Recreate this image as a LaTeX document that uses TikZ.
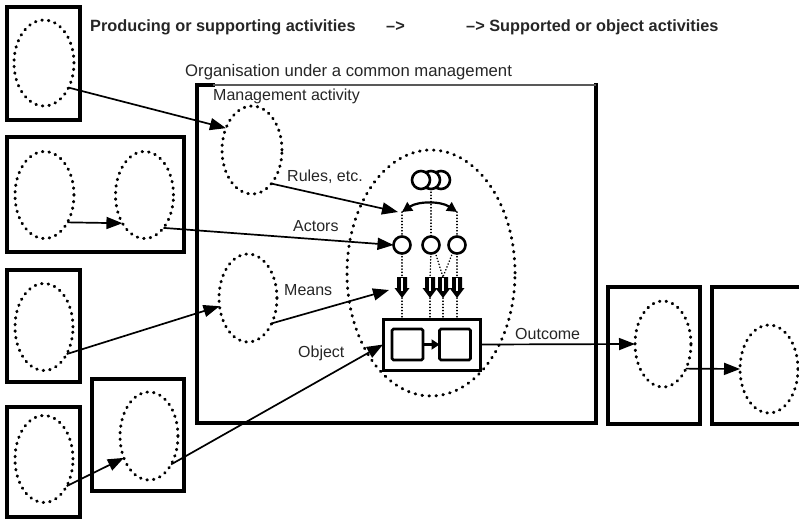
\documentclass[tikz,border=0pt]{standalone}
\usepackage{fontspec}
\setmainfont{Liberation Sans}
\usetikzlibrary{arrows.meta,shapes.geometric}
\begin{document}
\begin{tikzpicture}[x=1pt,y=-1pt,
  font=\fontsize{16}{19}\selectfont,
  every node/.style={text=black!85},
  actbox/.style={draw=black, line width=3.5pt, rectangle, inner sep=0pt, outer sep=0pt},
  dotell/.style={ellipse, draw=black, line width=3pt, dash pattern=on 0.6pt off 6pt, line cap=round, inner sep=0pt, outer sep=0pt, minimum width=58pt, minimum height=87pt},
  conn/.style={draw=black, line width=1.7pt, -{Triangle[length=16pt,width=12pt]}},
  lab/.style={anchor=base west, inner sep=0pt},
  ring/.style={circle, draw=black, line width=2.6pt, minimum size=17pt, inner sep=0pt, outer sep=0pt, fill=white},
  fine/.style={draw=black, line width=1.5pt, dash pattern=on 0.3pt off 2.8pt, line cap=round},
  sq/.style={rectangle, draw=black, line width=2.6pt, rounded corners=1.5pt, minimum width=31pt, minimum height=31pt, inner sep=0pt, outer sep=0pt}
]
\useasboundingbox (0,0) rectangle (799,520);
\fill[white] (0,0) rectangle (799,520);

% header texts
\node[lab, font=\fontsize{16.3}{19}\selectfont\bfseries] (h1) at (90,31) {Producing or supporting activities};
\node[lab, font=\fontsize{16.3}{19}\selectfont\bfseries] (h2) at (386,31) {–>};
\node[lab, font=\fontsize{16.3}{19}\selectfont\bfseries] (h3) at (466,31) {–> Supported or object activities};
\node[lab, font=\fontsize{16.7}{19}\selectfont] (orgt) at (185,76) {Organisation under a common management};

% organisation box
\node[minimum width=399pt, minimum height=338pt, inner sep=0pt, outer sep=0pt] (org) at (396.5,254) {};
\draw[line width=3.2pt, line cap=rect] ([xshift=16pt]org.north west) -| (org.south west) -| (org.north east);
\draw[line width=1.8pt, black!65] ([xshift=16pt]org.north west) -- (org.north east);
\node[lab] (mgt) at (213,100) {Management activity};

% left boxes
\node[actbox, minimum width=73pt, minimum height=113pt] (bA) at (43.5,63.5) {};
\node[dotell, minimum width=60pt, minimum height=86pt] (eA) at (44,63) {};
\node[actbox, minimum width=177pt, minimum height=115pt] (bB) at (95.5,194.5) {};
\node[dotell, minimum width=59pt] (eB1) at (44.5,195) {};
\node[dotell] (eB2) at (144.5,195) {};
\node[actbox, minimum width=73pt, minimum height=112pt] (bC) at (43.5,326) {};
\node[dotell] (eC) at (44,327) {};
\node[actbox, minimum width=73pt, minimum height=110pt] (bD) at (43.5,462) {};
\node[dotell] (eD) at (44,459) {};
\node[actbox, minimum width=92pt, minimum height=112pt] (bE) at (138,435) {};
\node[dotell, minimum height=88pt] (eE) at (149,436) {};

% right boxes
\node[actbox, minimum width=92pt, minimum height=137pt] (bF) at (654,355.5) {};
\node[dotell, minimum width=56pt, minimum height=86pt] (eF) at (663,344) {};
\node[actbox, minimum width=100pt, minimum height=137pt] (bG) at (762,355.5) {};
\node[dotell, minimum height=88pt] (eG) at (769,369) {};

% inner ellipses
\node[dotell, minimum width=60pt, minimum height=88pt] (mg) at (252,150) {};
\node[dotell, minimum height=88pt] (mn) at (248,298) {};
\node[dotell, minimum width=168pt, minimum height=246pt, dash pattern=on 0.6pt off 6.4pt] (big) at (431,273) {};

% labels
\node[lab] (lr) at (287,181) {Rules, etc.};
\node[lab] (la) at (293,231) {Actors};
\node[lab] (lm) at (284,295) {Means};
\node[lab] (lo) at (298,357) {Object};
\node[lab] (lout) at (515,339) {Outcome};

% top rings
\node[ring, minimum size=18pt] (t3) at (441,180) {};
\node[ring, minimum size=18pt] (t2) at (431,180) {};
\node[ring, minimum size=18pt] (t1) at (421,180) {};

% actors
\node[ring] (a1) at (402,245) {};
\node[ring] (a2) at (431,245) {};
\node[ring] (a3) at (457,245) {};

% curved arrow
\coordinate (cL) at (402,212);
\coordinate (cR) at (457,212);
\draw[line width=2.2pt, {Triangle[length=10pt,width=10pt]}-{Triangle[length=10pt,width=10pt]}] (cL) .. controls (418,201) and (441,201) .. (cR);
\draw[fine] (t2.south) -- (a2.north);
\draw[fine] (cL) -- (a1.north);
\draw[fine] (cR) -- (a3.north);

% block arrows
\foreach \bx in {402,430,443,457} {
  \coordinate (bt\bx) at (\bx,277);
  \coordinate (bb\bx) at (\bx,298);
  \fill[black] (\bx-5,277) -- (\bx+5,277) -- (\bx+5,288) -- (\bx+7.5,288) -- (\bx,298) -- (\bx-7.5,288) -- (\bx-5,288) -- cycle;
  \draw[white, line width=1.1pt] (\bx,278) -- (\bx,291);
}
\draw[fine] (a1.south) -- (bt402);
\draw[fine] (a2.south) -- (bt430);
\draw[fine] (a2.-60) -- (bt443);
\draw[fine] (a3.-120) -- (bt443);
\draw[fine] (a3.south) -- (bt457);

% object box
\node[rectangle, draw=black, line width=3pt, minimum width=97pt, minimum height=51pt, inner sep=0pt, outer sep=0pt] (obj) at (431.5,344.5) {};
\node[sq] (s1) at (407.5,344.5) {};
\node[sq] (s2) at (455,344.5) {};
\draw[line width=2.6pt, -{Triangle[length=8pt,width=10pt]}] (s1.east) -- (s2.west);
\foreach \bx in {402,430,443,457} {
  \draw[fine] (bb\bx) -- (bb\bx |- obj.north);
}

% connectors
\coordinate (rulesEnd) at (398,212);
\coordinate (meansEnd) at (389,290);
\draw[conn] (eA.-45) -- (mg.140);
\draw[conn] (eB1.-50) -- (eB2.-128);
\draw[conn] (eB2.-60) -- (a1.west);
\draw[conn] (mg.-60) -- (rulesEnd);
\draw[conn] (eC.-50) -- (mn.196);
\draw[conn] (mn.-47) -- (meansEnd);
\draw[conn] (eD.-50) -- (eE.221);
\draw[conn] (eE.-52) -- (obj.west);
\draw[conn] (obj.east) -- (eF.west);
\draw[conn] (eF.-47) -- (eG.west);
\end{tikzpicture}
\end{document}
